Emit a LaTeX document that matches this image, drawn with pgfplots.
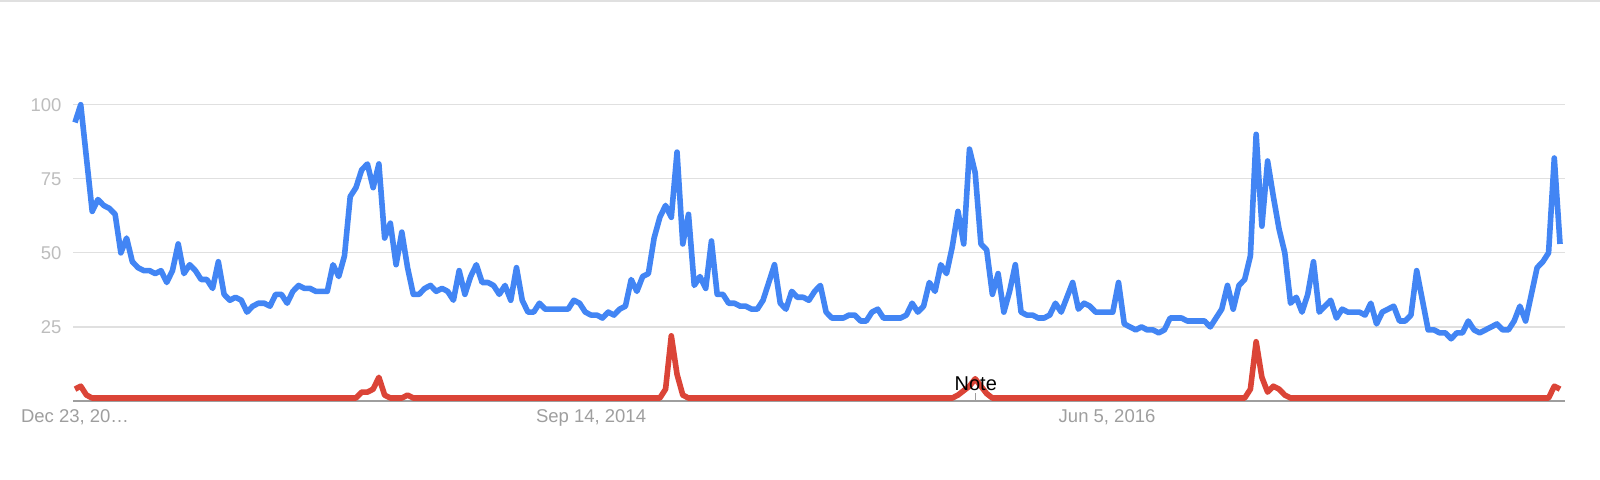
\documentclass[border=0pt]{standalone}
\usepackage{pgfplots}
\pgfplotsset{compat=1.18}
\usepackage{pgfplotstable}
\usepackage{fontspec}
\setmainfont{Liberation Sans}
\definecolor{gblue}{HTML}{4285F4}
\definecolor{gred}{HTML}{DB4437}
\definecolor{gridc}{HTML}{E0E0E0}
\definecolor{ylab}{HTML}{BDBDBD}
\definecolor{xlab}{HTML}{9E9E9E}
\definecolor{axc}{HTML}{9E9E9E}

\pgfplotstableread[row sep=\\]{
b r\\
94 4\\ 100 5\\ 82 2\\ 64 1\\ 68 1\\ 66 1\\ 65 1\\ 63 1\\ 50 1\\ 55 1\\
47 1\\ 45 1\\ 44 1\\ 44 1\\ 43 1\\ 44 1\\ 40 1\\ 44 1\\ 53 1\\ 43 1\\
46 1\\ 44 1\\ 41 1\\ 41 1\\ 38 1\\ 47 1\\ 36 1\\ 34 1\\ 35 1\\ 34 1\\
30 1\\ 32 1\\ 33 1\\ 33 1\\ 32 1\\ 36 1\\ 36 1\\ 33 1\\ 37 1\\ 39 1\\
38 1\\ 38 1\\ 37 1\\ 37 1\\ 37 1\\ 46 1\\ 42 1\\ 49 1\\ 69 1\\ 72 1\\
78 3\\ 80 3\\ 72 4\\ 80 8\\ 55 2\\ 60 1\\ 46 1\\ 57 1\\ 45 2\\ 36 1\\
36 1\\ 38 1\\ 39 1\\ 37 1\\ 38 1\\ 37 1\\ 34 1\\ 44 1\\ 36 1\\ 42 1\\
46 1\\ 40 1\\ 40 1\\ 39 1\\ 36 1\\ 39 1\\ 34 1\\ 45 1\\ 34 1\\ 30 1\\
30 1\\ 33 1\\ 31 1\\ 31 1\\ 31 1\\ 31 1\\ 31 1\\ 34 1\\ 33 1\\ 30 1\\
29 1\\ 29 1\\ 28 1\\ 30 1\\ 29 1\\ 31 1\\ 32 1\\ 41 1\\ 37 1\\ 42 1\\
43 1\\ 55 1\\ 62 1\\ 66 4\\ 62 22\\ 84 9\\ 53 2\\ 63 1\\ 39 1\\ 42 1\\
38 1\\ 54 1\\ 36 1\\ 36 1\\ 33 1\\ 33 1\\ 32 1\\ 32 1\\ 31 1\\ 31 1\\
34 1\\ 40 1\\ 46 1\\ 33 1\\ 31 1\\ 37 1\\ 35 1\\ 35 1\\ 34 1\\ 37 1\\
39 1\\ 30 1\\ 28 1\\ 28 1\\ 28 1\\ 29 1\\ 29 1\\ 27 1\\ 27 1\\ 30 1\\
31 1\\ 28 1\\ 28 1\\ 28 1\\ 28 1\\ 29 1\\ 33 1\\ 30 1\\ 32 1\\ 40 1\\
37 1\\ 46 1\\ 43 1\\ 52 1\\ 64 2\\ 53 3.5\\ 85 5\\ 77 7.5\\ 53 5\\ 51 2.5\\
36 1\\ 43 1\\ 30 1\\ 37 1\\ 46 1\\ 30 1\\ 29 1\\ 29 1\\ 28 1\\ 28 1\\
29 1\\ 33 1\\ 30 1\\ 35 1\\ 40 1\\ 31 1\\ 33 1\\ 32 1\\ 30 1\\ 30 1\\
30 1\\ 30 1\\ 40 1\\ 26 1\\ 25 1\\ 24 1\\ 25 1\\ 24 1\\ 24 1\\ 23 1\\
24 1\\ 28 1\\ 28 1\\ 28 1\\ 27 1\\ 27 1\\ 27 1\\ 27 1\\ 25 1\\ 28 1\\
31 1\\ 39 1\\ 31 1\\ 39 1\\ 41 1\\ 49 4\\ 90 20\\ 59 8\\ 81 3\\ 69 5\\
58 4\\ 50 2\\ 33 1\\ 35 1\\ 30 1\\ 36 1\\ 47 1\\ 30 1\\ 32 1\\ 34 1\\
28 1\\ 31 1\\ 30 1\\ 30 1\\ 30 1\\ 29 1\\ 33 1\\ 26 1\\ 30 1\\ 31 1\\
32 1\\ 27 1\\ 27 1\\ 29 1\\ 44 1\\ 34 1\\ 24 1\\ 24 1\\ 23 1\\ 23 1\\
21 1\\ 23 1\\ 23 1\\ 27 1\\ 24 1\\ 23 1\\ 24 1\\ 25 1\\ 26 1\\ 24 1\\
24 1\\ 27 1\\ 32 1\\ 27 1\\ 36 1\\ 45 1\\ 47 1\\ 50 1\\ 82 5\\ 53 4\\
}\trends

\begin{document}
\begin{tikzpicture}
\path[use as bounding box] (0,0) rectangle (1600pt,479pt);
\draw[gridc, line width=2pt] (0,478pt) -- (1600pt,478pt);
\begin{axis}[
  at={(73pt,78pt)}, anchor=south west, scale only axis,
  width=1492pt, height=296.3pt,
  xmin=-0.349, xmax=259.87, ymin=0, ymax=100,
  clip=false,
  axis line style={draw=none},
  major tick length=0pt,
  ytick={25,50,75,100}, yticklabels={25,50,75,100},
  xtick={0,90,180}, xticklabels={{Dec 23, 20…},{Sep 14, 2014},{Jun 5, 2016}},
  ymajorgrids, grid style={gridc, line width=1.2pt},
  tick label style={font=\fontsize{18.5}{22}\selectfont},
  /pgf/number format/assume math mode=true,
  yticklabel style={text=ylab, anchor=east, inner sep=0pt, xshift=-11.3pt},
  xticklabel style={text=xlab, anchor=base, inner sep=0pt, yshift=-21.3pt},
]
\draw[axc, line width=1.5pt] (axis cs:-0.349,0) -- (axis cs:259.87,0);
\draw[axc, line width=1pt] (axis cs:157.1,0) -- ++(0pt,8pt);
\addplot[gblue, line width=5.6pt, line join=round, mark=none] table[x expr=\coordindex, y=b] {\trends};
\addplot[gred, line width=5.6pt, line join=round, mark=none] table[x expr=\coordindex, y=r] {\trends};
\node[anchor=base, inner sep=0pt, yshift=10.3pt, font=\fontsize{20}{24}\selectfont] at (axis cs:157.1,0) {Note};
\end{axis}
\end{tikzpicture}
\end{document}
